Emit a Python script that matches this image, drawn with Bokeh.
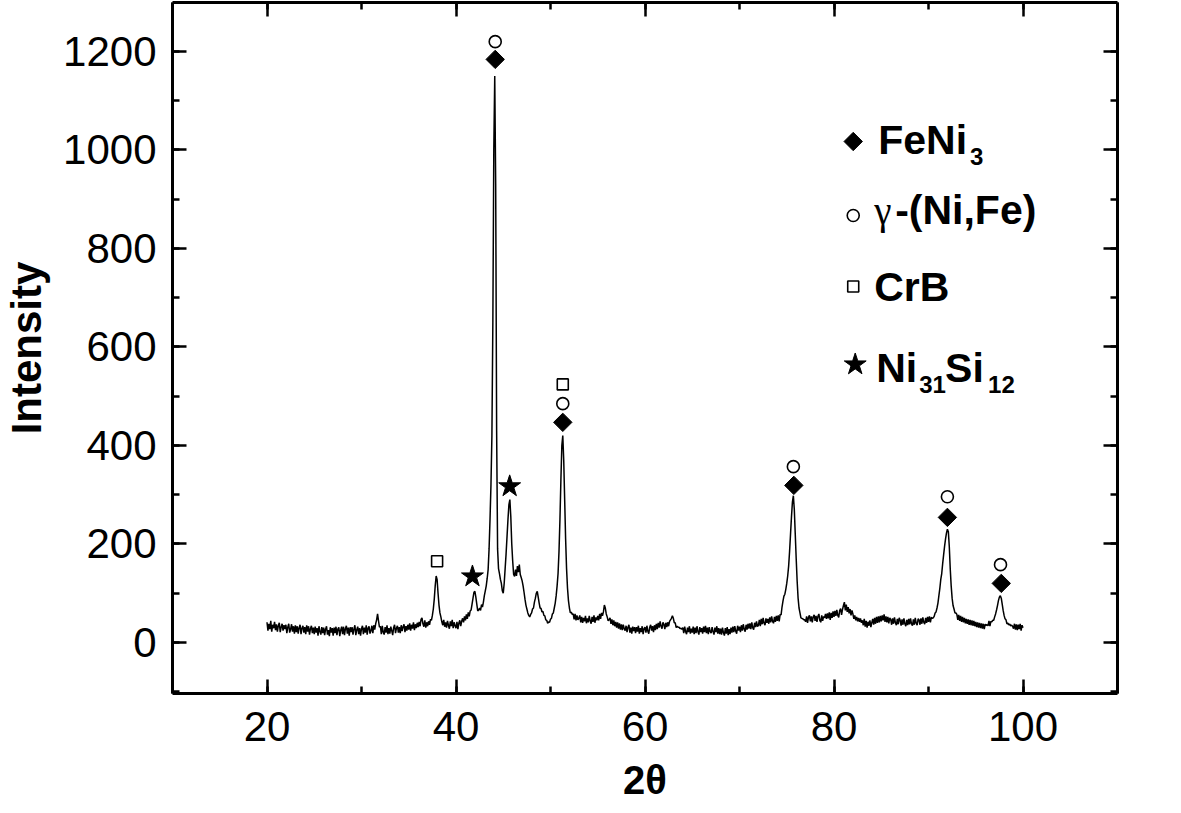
import numpy as np
from bokeh.plotting import figure
from bokeh.models import Range1d, LinearAxis, SingleIntervalTicker, CustomJSTickFormatter, Label
from bokeh.embed import file_html
from bokeh.resources import INLINE

# ---------------- data ----------------
# sampling grid: 20.0 .. 100.0 deg, step 0.1
two_theta = np.round(np.arange(200, 1001) / 10.0, 1)

intensity = [
    41, 24, 38, 27, 44, 22, 36, 29, 42, 25,        # 20
    37, 22, 34, 40, 21, 31, 38, 24, 35, 27,        # 21
    36, 19, 31, 38, 20, 27, 37, 22, 33, 18,        # 22
    35, 21, 33, 18, 30, 36, 17, 29, 34, 20,        # 23
    31, 17, 35, 22, 33, 16, 28, 34, 19, 30,        # 24
    17, 32, 20, 29, 14, 33, 22, 16, 31, 19,        # 25
    30, 15, 27, 33, 16, 25, 13, 31, 20, 29,        # 26
    14, 30, 19, 32, 15, 27, 31, 13, 25, 32,        # 27
    17, 32, 15, 28, 34, 18, 30, 14, 31, 21,        # 28
    31, 16, 27, 35, 15, 26, 32, 17, 29, 14,        # 29
    28, 34, 17, 30, 20, 35, 16, 29, 33, 18,        # 30
    24, 34, 19, 35, 26, 38, 46, 58, 44, 31,        # 31
    33, 17, 34, 21, 16, 31, 20, 35, 17, 29,        # 32
    18, 32, 24, 15, 30, 36, 19, 29, 34, 20,        # 33
    31, 19, 35, 23, 32, 37, 21, 33, 24, 36,        # 34
    26, 39, 24, 36, 28, 41, 25, 37, 29, 40,        # 35
    31, 42, 33, 47, 50, 38, 32, 45, 30, 41,        # 36
    33, 43, 36, 47, 45, 55, 68, 88, 115, 135,      # 37
    128, 100, 76, 60, 52, 42, 35, 46, 32, 41,      # 38
    30, 44, 35, 28, 43, 33, 46, 29, 41, 34,        # 39
    29, 42, 27, 39, 45, 33, 43, 49, 41, 53,        # 40
    45, 57, 48, 61, 53, 64, 66, 78, 90, 102,       # 41
    104, 92, 78, 64, 66, 70, 65, 77, 72, 82,       # 42
    95, 105, 115, 130, 148, 190, 250, 320, 420, 650,   # 43
    1000, 1150, 930, 430, 190, 150, 140, 128, 120, 105,  # 44
    100, 120, 150, 180, 215, 250, 280, 290, 255, 200,  # 45
    165, 138, 134, 148, 135, 155, 143, 158, 138, 132,  # 46
    125, 115, 102, 88, 76, 68, 60, 55, 52, 57,     # 47
    60, 68, 70, 82, 90, 100, 104, 92, 80, 70,      # 48
    69, 62, 63, 55, 54, 46, 45, 39, 42, 41,        # 49
    47, 49, 58, 60, 70, 80, 95, 115, 140, 185,     # 50
    250, 330, 400, 420, 370, 290, 210, 150, 110, 85,   # 51
    70, 60, 62, 57, 58, 47, 58, 45, 55, 46,        # 52
    49, 55, 41, 52, 40, 50, 43, 54, 39, 49,        # 53
    41, 54, 44, 38, 52, 42, 55, 40, 51, 45,        # 54
    54, 45, 58, 48, 60, 54, 62, 76, 70, 58,        # 55
    52, 44, 46, 50, 38, 47, 35, 45, 33, 42,        # 56
    30, 41, 28, 39, 26, 37, 25, 36, 28, 24,        # 57
    34, 21, 31, 36, 20, 30, 18, 32, 23, 31,        # 58
    19, 31, 22, 34, 18, 29, 21, 33, 17, 28,        # 59
    31, 20, 34, 23, 18, 31, 36, 24, 33, 21,        # 60
    35, 25, 38, 27, 40, 30, 43, 33, 28, 41,        # 61
    37, 27, 40, 31, 41, 33, 43, 46, 49, 54,        # 62
    49, 40, 40, 30, 33, 31, 31, 28, 29, 27,        # 63
    30, 19, 32, 22, 17, 30, 21, 33, 18, 28,        # 64
    20, 32, 17, 30, 19, 33, 22, 16, 31, 21,        # 65
    29, 18, 32, 21, 34, 19, 30, 17, 31, 22,        # 66
    19, 31, 22, 16, 30, 21, 33, 18, 29, 17,        # 67
    28, 16, 30, 20, 14, 29, 18, 31, 15, 27,        # 68
    17, 30, 20, 32, 21, 33, 23, 18, 34, 24,        # 69
    32, 21, 35, 24, 37, 27, 22, 36, 26, 38,        # 70
    28, 39, 27, 41, 30, 26, 40, 31, 43, 32,        # 71
    35, 46, 33, 48, 37, 50, 39, 35, 49, 40,        # 72
    48, 38, 51, 41, 53, 43, 39, 52, 42, 54,        # 73
    44, 55, 43, 57, 56, 72, 84, 94, 98, 108,       # 74
    120, 135, 155, 185, 220, 255, 285, 298, 270, 220,  # 75
    170, 125, 90, 70, 60, 50, 49, 48, 46, 46,      # 76
    42, 53, 40, 51, 55, 43, 53, 41, 52, 56,        # 77
    44, 54, 42, 53, 58, 45, 41, 55, 44, 53,        # 78
    50, 58, 48, 59, 49, 61, 46, 60, 50, 63,        # 79
    52, 64, 54, 66, 55, 51, 65, 69, 56, 67,        # 80
    75, 82, 65, 77, 62, 72, 59, 68, 55, 65,        # 81
    58, 48, 55, 45, 52, 43, 50, 42, 49, 40,        # 82
    45, 35, 48, 32, 44, 30, 42, 34, 45, 31,        # 83
    40, 48, 36, 50, 38, 52, 40, 53, 41, 54,        # 84
    43, 55, 45, 57, 42, 53, 41, 52, 39, 50,        # 85
    47, 36, 49, 38, 51, 40, 35, 48, 37, 50,        # 86
    45, 34, 47, 36, 49, 38, 33, 46, 35, 48,        # 87
    37, 49, 38, 34, 47, 36, 50, 39, 35, 48,        # 88
    46, 36, 49, 38, 51, 41, 37, 50, 40, 52,        # 89
    42, 53, 41, 51, 49, 50, 53, 60, 62, 70,        # 90
    80, 95, 110, 128, 140, 160, 178, 195, 210, 222,    # 91
    230, 225, 195, 150, 115, 90, 75, 68, 60, 60,   # 92
    57, 46, 56, 44, 54, 42, 52, 41, 50, 39,        # 93
    48, 38, 47, 36, 46, 35, 45, 34, 44, 33,        # 94
    42, 31, 41, 30, 40, 29, 39, 28, 38, 27,        # 95
    37, 35, 36, 34, 44, 33, 43, 42, 45, 45,        # 96
    52, 58, 66, 75, 85, 92, 95, 90, 78, 65,        # 97
    55, 48, 46, 38, 39, 36, 37, 34, 35, 33,        # 98
    28, 38, 26, 37, 25, 36, 27, 38, 24, 35,        # 99
    30,                                            # 100
]
assert len(intensity) == len(two_theta)

# phase markers placed above the peaks
feni3_x = [44.15, 51.3, 75.75, 92.0, 97.7]
feni3_y = [1184, 447, 319, 254, 120]
gamma_x = [44.15, 51.3, 75.7, 92.0, 97.62]
gamma_y = [1220, 485, 357, 296, 158]
crb_x = [38.0, 51.3]
crb_y = [165, 524]
nisi_x = [41.74, 45.68]
nisi_y = [134, 317]

x_ticks_interval = 20
y_ticks_interval = 200

# ---------------- figure ----------------
FONT = "Liberation Sans"

p = figure(frame_width=945, frame_height=691,
           x_range=Range1d(10, 110), y_range=Range1d(-103.6, 1299.5),
           output_backend="svg", toolbar_location=None,
           min_border_left=165, min_border_right=55,
           min_border_top=2, min_border_bottom=100)
p.grid.visible = False
p.outline_line_color = None
p.background_fill_color = "white"
p.border_fill_color = "white"

xt = SingleIntervalTicker(interval=x_ticks_interval, num_minor_ticks=2)
yt = SingleIntervalTicker(interval=y_ticks_interval, num_minor_ticks=2)

def style_axis(ax, ticker, labels=True):
    ax.ticker = ticker
    ax.axis_line_width = 3
    ax.axis_line_color = "black"
    ax.major_tick_in = 14
    ax.major_tick_out = 0
    ax.minor_tick_in = 7
    ax.minor_tick_out = 0
    ax.major_tick_line_width = 2.5
    ax.minor_tick_line_width = 2.5
    ax.major_tick_line_color = "black"
    ax.minor_tick_line_color = "black"
    if labels:
        ax.major_label_text_font = FONT
        ax.major_label_text_font_size = "42px"
        ax.major_label_text_color = "black"
    else:
        ax.formatter = CustomJSTickFormatter(code="return ''")
        ax.major_label_text_font_size = "1px"
        ax.major_label_standoff = 0
        ax.axis_label_standoff = 0

xa = p.xaxis[0]
style_axis(xa, xt)
xa.major_label_standoff = 18
xa.axis_label = "2θ"
xa.axis_label_text_font = FONT
xa.axis_label_text_font_style = "bold"
xa.axis_label_text_font_size = "40px"
xa.axis_label_text_color = "black"
xa.axis_label_standoff = 14

ya = p.yaxis[0]
style_axis(ya, yt)
ya.major_label_standoff = 16
ya.axis_label = "Intensity"
ya.axis_label_text_font = FONT
ya.axis_label_text_font_style = "bold"
ya.axis_label_text_font_size = "42px"
ya.axis_label_text_color = "black"
ya.axis_label_standoff = 10

top_ax = LinearAxis()
style_axis(top_ax, SingleIntervalTicker(interval=x_ticks_interval, num_minor_ticks=2), labels=False)
p.add_layout(top_ax, "above")
right_ax = LinearAxis()
style_axis(right_ax, SingleIntervalTicker(interval=y_ticks_interval, num_minor_ticks=2), labels=False)
p.add_layout(right_ax, "right")

# ---------------- pattern ----------------
p.line(two_theta, intensity, line_color="black", line_width=1.5)

DIAMOND = dict(marker="square", angle=np.pi / 4, size=13, fill_color="black", line_color="black", line_width=1)
CIRCLE = dict(marker="circle", size=12, fill_color="white", line_color="black", line_width=1.6)
SQUARE = dict(marker="square", size=11, fill_color="white", line_color="black", line_width=1.6)
STAR = dict(marker="star", size=23, fill_color="black", line_color="black", line_width=1)

p.scatter(feni3_x, feni3_y, **DIAMOND)
p.scatter(gamma_x, gamma_y, **CIRCLE)
p.scatter(crb_x, crb_y, **SQUARE)
p.scatter(nisi_x, nisi_y, **STAR)

# ---------------- legend (placed at reference pixel positions) ----------------
def rx(px):
    return 20 + (px - 267) / 9.4625

def ry(py):
    return (643 - py) / 0.4925

p.scatter([rx(854)], [ry(142)], **DIAMOND)
p.scatter([rx(854)], [ry(216)], **CIRCLE)
p.scatter([rx(854)], [ry(287)], **SQUARE)
p.scatter([rx(856)], [ry(365)], **STAR)

def label(px, py, txt, size, bold=True, font=FONT):
    p.add_layout(Label(x=rx(px), y=ry(py - 11), text=txt, text_font=font,
                       text_font_size=size, text_font_style="bold" if bold else "normal",
                       text_color="black", text_align="left", text_baseline="alphabetic"))

BIG = "41px"
SMALL = "24px"
label(879, 152, "FeNi", BIG)
label(971, 168, "3", SMALL)
label(875, 222, "γ", "39px", bold=False, font="Liberation Serif")
label(896, 222, "-(Ni,Fe)", BIG)
label(875, 299, "CrB", BIG)
label(877, 380, "Ni", BIG)
label(920, 396, "31", SMALL)
label(946, 380, "Si", BIG)
label(989, 396, "12", SMALL)

open("out.html", "w").write(file_html(p, INLINE))
